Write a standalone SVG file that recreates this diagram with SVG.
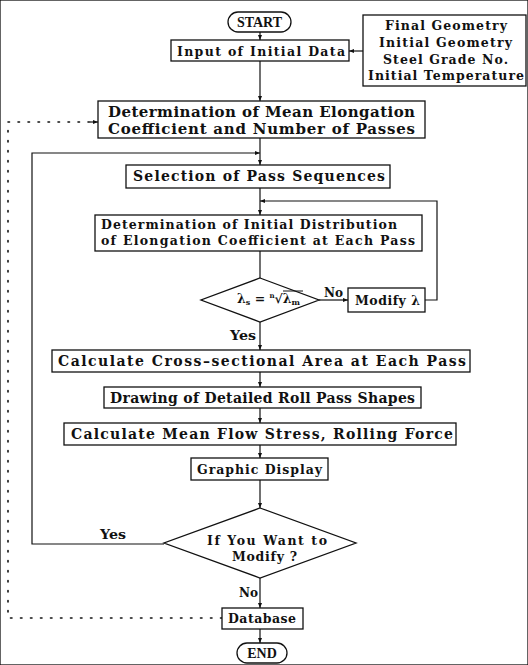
<svg xmlns="http://www.w3.org/2000/svg" width="528" height="665" viewBox="0 0 528 665">
<defs>
<marker id="ar" viewBox="0 0 10 10" refX="10" refY="5" markerWidth="5" markerHeight="5" orient="auto" markerUnits="userSpaceOnUse">
<path d="M0,1 L10,5 L0,9 z" fill="#111"/>
</marker>
<style>
rect, polygon { fill: #fff; stroke: #111; stroke-width: 1.3; }
.c line, .c polyline { fill: none; stroke: #111; stroke-width: 1.2; }
.c .dot { stroke-dasharray: 1.5 8.5; stroke-width: 1.6; stroke-linecap: round; }
text { font-family: "DejaVu Serif", "Liberation Serif", serif; font-weight: bold; fill: #111; }
.t { font-family: "Liberation Serif", "Times New Roman", serif; font-size: 14px; }
.b { font-size: 15px; }
.m { font-size: 14px; }
.s { font-size: 12.5px; }
.l { font-size: 12px; }
</style>
</defs>
<rect width="528" height="665" fill="#fff" stroke="none"/>

<g class="c" id="connectors">
<line x1="260" y1="32" x2="260" y2="40" marker-end="url(#ar)"/>
<line x1="363" y1="51" x2="349" y2="51" marker-end="url(#ar)"/>
<line x1="260" y1="61" x2="260" y2="101" marker-end="url(#ar)"/>
<line x1="260" y1="138" x2="260" y2="165" marker-end="url(#ar)"/>
<polyline points="164,544 32,544 32,153 260,153" marker-end="url(#ar)"/>
<line x1="260" y1="188" x2="260" y2="215" marker-end="url(#ar)"/>
<polyline points="425,300 437,300 437,201 260,201" marker-end="url(#ar)"/>
<line x1="260" y1="251" x2="260" y2="278"/>
<line x1="319" y1="300" x2="348" y2="300" marker-end="url(#ar)"/>
<line x1="260" y1="322" x2="260" y2="350" marker-end="url(#ar)"/>
<line x1="260" y1="372" x2="260" y2="387" marker-end="url(#ar)"/>
<line x1="260" y1="408" x2="260" y2="423" marker-end="url(#ar)"/>
<line x1="260" y1="445" x2="260" y2="458" marker-end="url(#ar)"/>
<line x1="260" y1="480" x2="260" y2="508" marker-end="url(#ar)"/>
<line x1="260" y1="578" x2="260" y2="608" marker-end="url(#ar)"/>
<line x1="260" y1="629" x2="260" y2="643" marker-end="url(#ar)"/>
<polyline class="dot" points="222,618 8,618 8,122 92,122"/>
<line x1="90" y1="122" x2="98" y2="122" marker-end="url(#ar)"/>
<text class="l" x="324" y="297" textLength="19" lengthAdjust="spacingAndGlyphs">No</text>
<text class="l" x="230" y="340" textLength="26" lengthAdjust="spacingAndGlyphs">Yes</text>
<text class="l" x="100" y="539" textLength="26" lengthAdjust="spacingAndGlyphs">Yes</text>
<text class="l" x="239" y="597" textLength="19" lengthAdjust="spacingAndGlyphs">No</text>
</g>

<g id="start">
<rect x="228" y="12" width="63" height="20" rx="10"/>
<text class="t" x="259.5" y="27" text-anchor="middle">START</text>
</g>

<g id="input">
<rect x="171" y="40" width="178" height="21"/>
<text class="s" x="177" y="56" textLength="168" lengthAdjust="spacing">Input of Initial Data</text>
</g>

<g id="data">
<rect x="363" y="15" width="163" height="71"/>
<text class="s" x="385" y="30" textLength="122" lengthAdjust="spacing">Final Geometry</text>
<text class="s" x="379" y="47" textLength="133" lengthAdjust="spacing">Initial Geometry</text>
<text class="s" x="383" y="64" textLength="125" lengthAdjust="spacing">Steel Grade No.</text>
<text class="s" x="368" y="80" textLength="156" lengthAdjust="spacing">Initial Temperature</text>
</g>

<g id="mean">
<rect x="98" y="101" width="327" height="37"/>
<text class="b" x="108" y="117" textLength="307" lengthAdjust="spacing">Determination of Mean Elongation</text>
<text class="b" x="108" y="134" textLength="307" lengthAdjust="spacing">Coefficient and Number of Passes</text>
</g>

<g id="selection">
<rect x="126" y="165" width="264" height="23"/>
<text class="m" x="133" y="181" textLength="252" lengthAdjust="spacing">Selection of Pass Sequences</text>
</g>

<g id="distribution">
<rect x="95" y="215" width="327" height="36"/>
<text class="s" x="101" y="229" textLength="296" lengthAdjust="spacing">Determination of Initial Distribution</text>
<text class="s" x="101" y="245" textLength="314" lengthAdjust="spacing">of Elongation Coefficient at Each Pass</text>
</g>

<g id="check">
<polygon points="260,278 319,300 260,322 201,300"/>
<text class="s" x="237" y="303">λ<tspan font-size="8" dy="2">s</tspan><tspan dy="-2"> = </tspan><tspan font-size="7" dy="-5">n</tspan><tspan dy="5">√λ</tspan><tspan font-size="8" dy="2">m</tspan></text>
<line x1="283" y1="291" x2="303" y2="291" stroke="#111" stroke-width="1"/>
</g>

<g id="modify">
<rect x="348" y="288" width="77" height="24"/>
<text class="s" x="355" y="305" textLength="65" lengthAdjust="spacing">Modify λ</text>
</g>

<g id="area">
<rect x="52" y="350" width="418" height="22"/>
<text class="m" x="58" y="366" textLength="408" lengthAdjust="spacing">Calculate Cross–sectional Area at Each Pass</text>
</g>

<g id="drawing">
<rect x="104" y="387" width="317" height="21"/>
<text class="m" x="110" y="403" textLength="305" lengthAdjust="spacing">Drawing of Detailed Roll Pass Shapes</text>
</g>

<g id="stress">
<rect x="64" y="423" width="392" height="22"/>
<text class="m" x="71" y="439" textLength="382" lengthAdjust="spacing">Calculate Mean Flow Stress, Rolling Force</text>
</g>

<g id="graphic">
<rect x="191" y="458" width="137" height="22"/>
<text class="s" x="197" y="474" textLength="125" lengthAdjust="spacing">Graphic Display</text>
</g>

<g id="decision">
<polygon points="260,508 356,543 260,578 164,543"/>
<text class="s" x="207" y="545" textLength="120" lengthAdjust="spacing">If You Want to</text>
<text class="s" x="232" y="561" textLength="65" lengthAdjust="spacing">Modify ?</text>
</g>

<g id="database">
<rect x="222" y="608" width="81" height="21"/>
<text class="s" x="228" y="623" textLength="68" lengthAdjust="spacing">Database</text>
</g>

<g id="end">
<rect x="237" y="643" width="50" height="20" rx="10"/>
<text class="t" x="262" y="658" text-anchor="middle">END</text>
</g>
</svg>
